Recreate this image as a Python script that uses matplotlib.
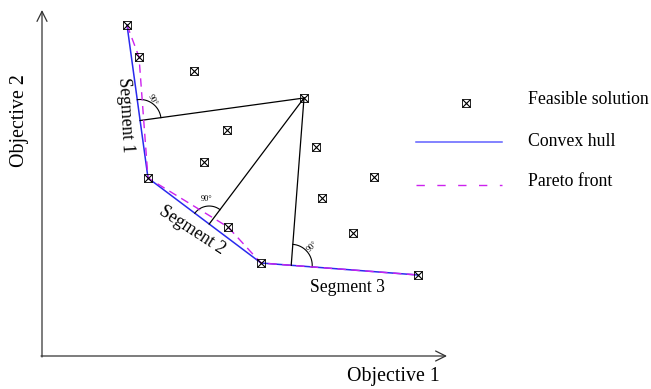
import matplotlib.pyplot as plt
import numpy as np

plt.rcParams['font.family'] = ['Liberation Serif', 'DejaVu Serif']

# 可行解 (图像像素坐标)
sol_x = [127, 139, 194, 148, 227, 204, 228, 261, 304, 316, 322, 374, 353, 418]
sol_y = [25, 57, 71, 178, 130, 162, 227, 263, 98, 147, 198, 177, 233, 275]

# 凸包和 Pareto 前沿
hull_x = [127, 148, 261, 418]
hull_y = [25, 178, 263, 275]
pareto_x = [127, 139, 148, 228, 261, 418]
pareto_y = [25, 57, 178, 227, 263, 275]

# 远点
far_pt = (304, 98)

fig = plt.figure(figsize=(6.51, 3.89), dpi=100)
ax = fig.add_axes([0, 0, 1, 1])
ax.set_xlim(0, 651)
ax.set_ylim(389, 0)
ax.axis('off')

# 坐标轴箭头
ax.annotate('', xy=(42, 10), xytext=(42, 357),
            arrowprops=dict(arrowstyle='->', lw=0.9, color='#333333',
                            mutation_scale=18, shrinkA=0, shrinkB=0))
ax.annotate('', xy=(447, 356), xytext=(41, 356),
            arrowprops=dict(arrowstyle='->', lw=0.9, color='#333333',
                            mutation_scale=18, shrinkA=0, shrinkB=0))
ax.text(20, 121, 'Objective 2', rotation=90, fontsize=14.3, ha='center', va='center')
ax.text(393, 377, 'Objective 1', fontsize=14.3, ha='center', va='center')

ax.plot(hull_x, hull_y, color='#2a2aee', lw=1.1, zorder=2)
ax.plot(pareto_x, pareto_y, color='#cc22ee', lw=1.0, dashes=(6, 4), zorder=3)

# 垂线与直角弧
deg_rot = [-60, 0, 45]
deg_off = [(12, -20), (-3, -25), (21, -19)]
for i in range(3):
    a = np.array([hull_x[i], hull_y[i]], float)
    b = np.array([hull_x[i + 1], hull_y[i + 1]], float)
    p = np.array(far_pt, float)
    d = b - a
    t = np.dot(p - a, d) / np.dot(d, d)
    f = a + t * d
    ax.plot([p[0], f[0]], [p[1], f[1]], color='black', lw=0.9, zorder=2)
    u1 = (p - f) / np.linalg.norm(p - f)
    u2 = (a - f) / np.linalg.norm(a - f) if i < 2 else (b - f) / np.linalg.norm(b - f)
    r = 21 if i != 1 else 18
    ang = np.linspace(0, 1, 30)
    v = np.array([np.cos(np.pi / 2 * s) * u2 + np.sin(np.pi / 2 * s) * u1 for s in ang])
    ax.plot(f[0] + r * v[:, 0], f[1] + r * v[:, 1], color='black', lw=0.8)
    ax.text(f[0] + deg_off[i][0], f[1] + deg_off[i][1], '90°', fontsize=6,
            rotation=deg_rot[i], ha='center', va='center')

# 可行解标记
ax.scatter(sol_x, sol_y, marker='s', s=34, facecolors='none', edgecolors='black',
           linewidths=0.6, zorder=4)
ax.scatter(sol_x, sol_y, marker='x', s=34, color='black', linewidths=0.8, zorder=4)

ax.text(125, 115, 'Segment 1', rotation=-87, fontsize=12.7, ha='center', va='center')
ax.text(192, 230, 'Segment 2', rotation=-33, fontsize=12.7, ha='center', va='center')
ax.text(347, 287, 'Segment 3', fontsize=12.7, ha='center', va='center')

# 图例
ax.scatter([466], [103], marker='s', s=34, facecolors='none', edgecolors='black', linewidths=0.6)
ax.scatter([466], [103], marker='x', s=34, color='black', linewidths=0.8)
ax.text(528, 99, 'Feasible solution', fontsize=12.8, va='center')
ax.plot([416, 502], [142, 142], color='#6060ff', lw=1.1)
ax.text(528, 141, 'Convex hull', fontsize=12.8, va='center')
ax.plot([416, 502], [185, 185], color='#cc22ee', lw=1.0, dashes=(6, 9))
ax.text(528, 181, 'Pareto front', fontsize=12.8, va='center')

plt.savefig('out.png', dpi=100)
